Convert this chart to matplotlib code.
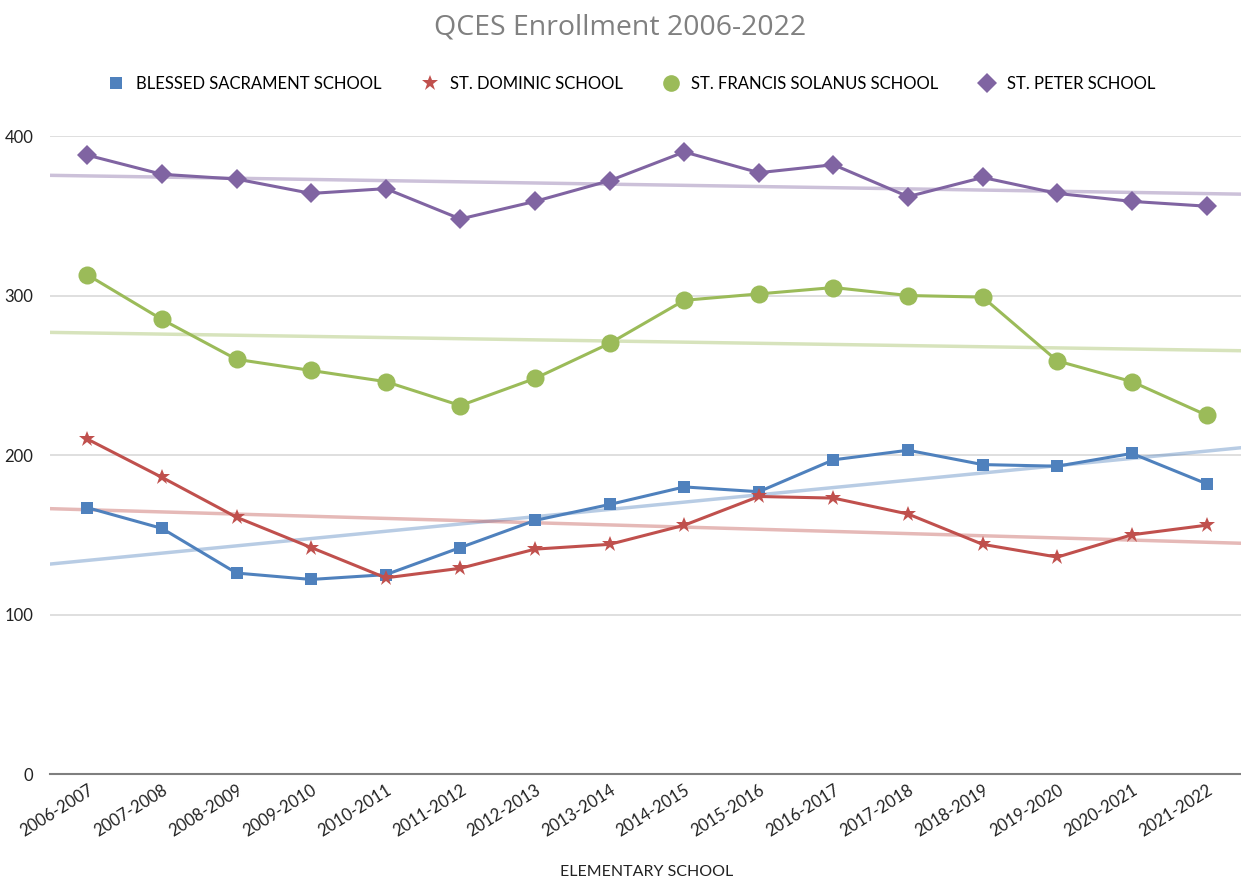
import numpy as np
import matplotlib
matplotlib.use("Agg")
from matplotlib import pyplot as plt

plt.rcParams['font.family'] = ['Lato', 'DejaVu Sans']

years = ["2006-2007", "2007-2008", "2008-2009", "2009-2010", "2010-2011",
         "2011-2012", "2012-2013", "2013-2014", "2014-2015", "2015-2016",
         "2016-2017", "2017-2018", "2018-2019", "2019-2020", "2020-2021",
         "2021-2022"]

blessed = [167, 154, 126, 122, 125, 142, 159, 169, 180, 177, 197, 203, 194, 193, 201, 182]
dominic = [210, 186, 161, 142, 123, 129, 141, 144, 156, 174, 173, 163, 144, 136, 150, 156]
francis = [313, 285, 260, 253, 246, 231, 248, 270, 297, 301, 305, 300, 299, 259, 246, 225]
peter = [388, 376, 373, 364, 367, 348, 359, 372, 390, 377, 382, 362, 374, 364, 359, 356]

names = ["BLESSED SACRAMENT SCHOOL", "ST. DOMINIC SCHOOL",
         "ST. FRANCIS SOLANUS SCHOOL", "ST. PETER SCHOOL"]
colors = ["#4F81BD", "#C0504D", "#9BBB59", "#8064A2"]
markers = ["s", "*", "o", "D"]
msizes = [9, 12, 13, 10]

fig = plt.figure(figsize=(12.41, 8.82), dpi=100)
ax = fig.add_axes([0.0403, 0.1224, 0.962, 0.7234])

x = np.arange(len(years))
for vals, name, c, m, ms in zip([blessed, dominic, francis, peter], names, colors, markers, msizes):
    # linear trendline across the plot width
    k, b = np.polyfit(x, vals, 1)
    tx = np.array([-0.5, 15.5])
    ax.plot(tx, k * tx + b, color=c, alpha=0.4, lw=2.5, zorder=2)
    ax.plot(x, vals, color=c, lw=2.2, marker=m, markersize=ms,
            markeredgewidth=0, zorder=3, label=name)

ax.set_xlim(-0.5, 15.5)
ax.set_ylim(0, 400)
ax.set_yticks([0, 100, 200, 300, 400])
ax.grid(axis='y', color='#d9d9d9', lw=1.2)
ax.set_axisbelow(True)
for s in ['top', 'right', 'left']:
    ax.spines[s].set_visible(False)
ax.spines['bottom'].set_color('#7f7f7f')
ax.spines['bottom'].set_linewidth(1.5)
ax.tick_params(axis='both', length=0, labelsize=12, colors='#222222')
ax.tick_params(axis='y', pad=12)
ax.tick_params(axis='x', pad=6)
ax.set_xticks(x)
ax.set_xticklabels(years, rotation=32, ha='right', rotation_mode='anchor')
ax.set_xlabel("ELEMENTARY SCHOOL", fontsize=11.5, color='#222222', labelpad=18)

fig.suptitle("QCES Enrollment 2006-2022", y=0.985, fontsize=20.5, color='#808080',
             family=['Open Sans', 'DejaVu Sans'])

leg_handles = []
for c, m, ms in zip(colors, markers, [9, 12, 12, 10]):
    leg_handles.append(plt.Line2D([], [], ls='none', marker=m, color=c,
                                  markersize=ms, markeredgewidth=0))
fig.legend(leg_handles, names, loc='center', bbox_to_anchor=(0.508, 0.905),
           ncol=4, frameon=False, fontsize=12, handletextpad=0.6,
           columnspacing=2.3, handlelength=1.2)

fig.savefig("out.png", dpi=100)
